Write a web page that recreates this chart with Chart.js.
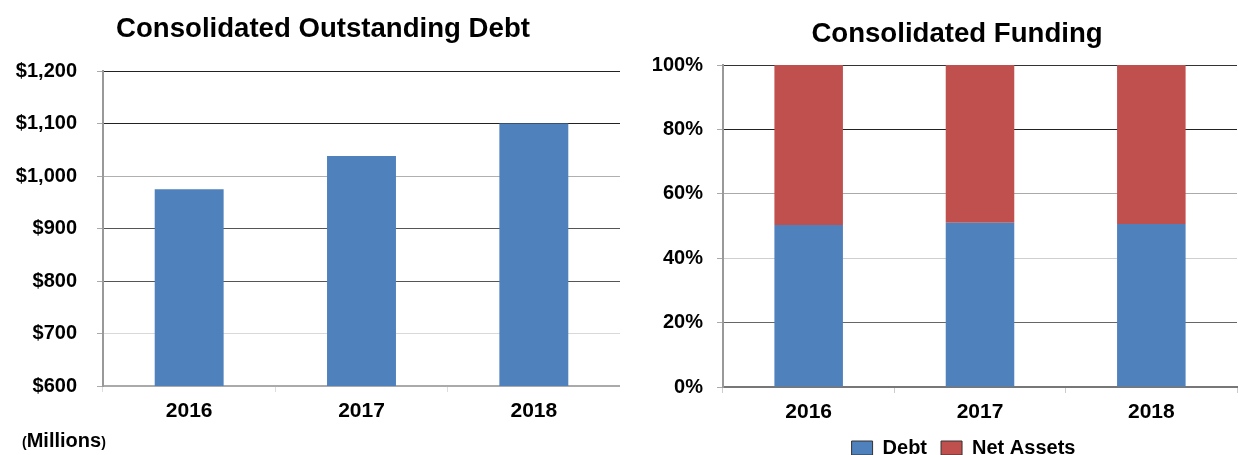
<!DOCTYPE html>
<html>
<head>
<meta charset="utf-8">
<script src="https://cdn.jsdelivr.net/npm/chart.js@4.4.1/dist/chart.umd.min.js"></script>
<style>
  html, body { margin: 0; padding: 0; background: #fff; }
  #wrap { position: relative; width: 1238px; height: 455px; overflow: hidden;
          font-family: "Liberation Sans", Arial, sans-serif; font-weight: bold; color: #000; }
  #debtBox { position: absolute; left: 0; top: 0; width: 620px; height: 455px; }
  #fundBox { position: absolute; left: 620px; top: 0; width: 618px; height: 455px; }
  .titre { position: absolute; font-size: 27.6px; line-height: 32px; white-space: nowrap;
           transform: translateX(-50%); }
  #unite { position: absolute; left: 22px; top: 428px; font-size: 20px; line-height: 24px; }
  #unite span { font-size: 14px; }
</style>
</head>
<body>
<div id="wrap">
  <div id="debtBox"><canvas id="debtChart" width="620" height="455"></canvas></div>
  <div id="fundBox"><canvas id="fundChart" width="618" height="455"></canvas></div>
  <div class="titre" style="left:323px; top:12px;">Consolidated Outstanding Debt</div>
  <div class="titre" style="left:957px; top:17px;">Consolidated Funding</div>
  <div id="unite"><span>(</span>Millions<span>)</span></div>
</div>
<script>
// donnees
const years = ['2016', '2017', '2018'];
const outstandingDebt = [975, 1038, 1100];      // millions $
const debtShare = [50.3, 51.0, 50.6];           // %
const netAssetsShare = [49.7, 49.0, 49.4];      // %
const debtTicks = [600, 700, 800, 900, 1000, 1100, 1200];
const pctTicks = [0, 20, 40, 60, 80, 100];

const BLUE = '#4F81BD';
const RED = '#C0504D';

Chart.defaults.font.family = '"Liberation Sans", Arial, sans-serif';
Chart.defaults.font.weight = 'bold';
Chart.defaults.color = '#000';
Chart.defaults.animation = false;

// teintes des lignes de grille (du bas vers le haut), comme sur l'image
const debtGridShade = ['#999', '#d9d9d9', '#555', '#555', '#b0b0b0', '#222', '#222'];
const pctGridShade = ['#777', '#666', '#cfcfcf', '#aaa', '#222', '#333'];

function fmtDollar(v) {
    return '$' + v.toLocaleString('en-US');
}

// petit decalage de la legende (centree sous le titre, pas sous la zone)
const decaleLegende = {
    id: 'decaleLegende',
    afterLayout(chart) {
        const lg = chart.legend;
        lg.left += 21; lg.right += 21;
        lg.top -= 3; lg.bottom -= 3;
    }
};

// Graphique 1 : dette
new Chart(document.getElementById('debtChart'), {
    type: 'bar',
    data: {
        labels: years,
        datasets: [{
            label: 'Debt',
            data: outstandingDebt,
            backgroundColor: BLUE,
            borderWidth: 0,
            barPercentage: 0.4,
            categoryPercentage: 1
        }]
    },
    options: {
        responsive: false,
        layout: { padding: { left: 12, right: 0, top: 71, bottom: 0 } },
        plugins: {
            legend: { display: false },
            tooltip: { enabled: false }
        },
        scales: {
            x: {
                grid: { offset: true, drawOnChartArea: false, drawTicks: true, tickLength: 6, color: '#ddd' },
                border: { color: '#aaa', width: 2 },
                ticks: { font: { size: 21, weight: 'bold' }, padding: 7 },
                afterFit: s => { s.height = 69; }
            },
            y: {
                min: 600, max: 1200,
                afterBuildTicks: s => { s.ticks = debtTicks.map(v => ({ value: v })); },
                grid: {
                    color: c => debtGridShade[c.index] || '#999',
                    tickColor: '#aaa',
                    tickLength: 6
                },
                border: { color: '#999', width: 2 },
                ticks: { font: { size: 20, weight: 'bold' }, padding: 20, callback: v => fmtDollar(v) },
                afterFit: s => { s.width = 91; }
            }
        }
    }
});

// Graphique 2 : financement
const baseLabels = Chart.defaults.plugins.legend.labels.generateLabels;
new Chart(document.getElementById('fundChart'), {
    type: 'bar',
    data: {
        labels: years,
        datasets: [{
            label: 'Debt',
            data: debtShare,
            backgroundColor: BLUE,
            borderWidth: 0,
            barPercentage: 0.4,
            categoryPercentage: 1
        }, {
            label: 'Net Assets',
            data: netAssetsShare,
            backgroundColor: RED,
            borderWidth: 0,
            barPercentage: 0.4,
            categoryPercentage: 1
        }]
    },
    plugins: [decaleLegende],
    options: {
        responsive: false,
        layout: { padding: { left: 28, right: 1, top: 65, bottom: -16 } },
        plugins: {
            tooltip: { enabled: false },
            legend: {
                position: 'bottom',
                labels: {
                    boxWidth: 21,
                    boxHeight: 14,
                    padding: 14,
                    font: { size: 20, weight: 'bold' },
                    generateLabels: chart => baseLabels(chart).map(l => {
                        l.strokeStyle = '#333';
                        l.lineWidth = 1;
                        return l;
                    })
                }
            }
        },
        scales: {
            x: {
                stacked: true,
                grid: { offset: true, drawOnChartArea: false, drawTicks: true, tickLength: 6, color: '#ccc' },
                border: { color: '#777', width: 2 },
                ticks: { font: { size: 21, weight: 'bold' }, padding: 7 },
                afterFit: s => { s.height = 40; }
            },
            y: {
                stacked: true,
                min: 0, max: 100,
                afterBuildTicks: s => { s.ticks = pctTicks.map(v => ({ value: v })); },
                grid: {
                    color: c => pctGridShade[c.index] || '#999',
                    tickColor: '#aaa',
                    tickLength: 6
                },
                border: { color: '#999', width: 2 },
                ticks: { font: { size: 20, weight: 'bold' }, padding: 14, callback: v => v + '%' },
                afterFit: s => { s.width = 75; }
            }
        }
    }
});
</script>
</body>
</html>
